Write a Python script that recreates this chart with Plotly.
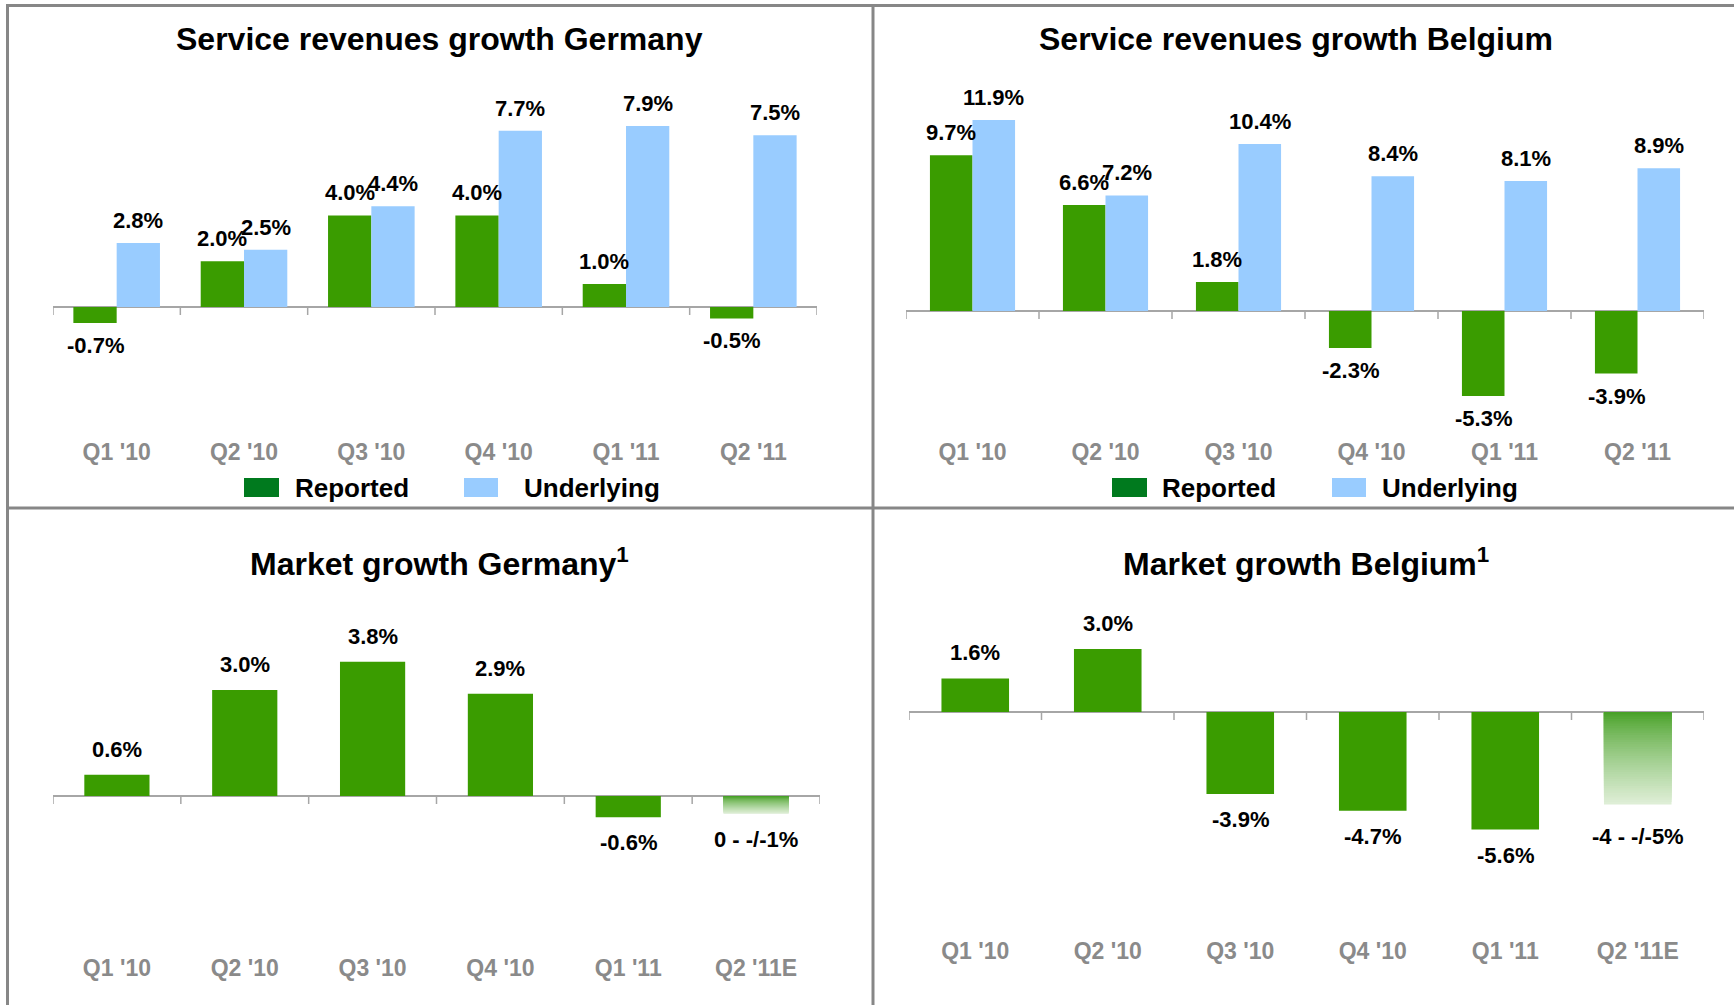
import plotly.graph_objects as go

W, H = 1734, 1005

quarters = ["Q1 '10", "Q2 '10", "Q3 '10", "Q4 '10", "Q1 '11", "Q2 '11"]
quarters_est = ["Q1 '10", "Q2 '10", "Q3 '10", "Q4 '10", "Q1 '11", "Q2 '11E"]

de_reported = [-0.7, 2.0, 4.0, 4.0, 1.0, -0.5]
de_underlying = [2.8, 2.5, 4.4, 7.7, 7.9, 7.5]
be_reported = [9.7, 6.6, 1.8, -2.3, -5.3, -3.9]
be_underlying = [11.9, 7.2, 10.4, 8.4, 8.1, 8.9]

de_market = [0.6, 3.0, 3.8, 2.9, -0.6]
be_market = [1.6, 3.0, -3.9, -4.7, -5.6]
# Q2 '11 is an estimated range -> faded bar drawn at the middle of the range
de_market_est = -0.5
be_market_est = -4.4
de_market_est_label = "0 - -/-1%"
be_market_est_label = "-4 - -/-5%"

GREEN = "#3A9C00"
GREEN_LEGEND = "#007A1E"
BLUE = "#99CCFF"
AXIS_GRAY = "#A6A6A6"
BORDER_GRAY = "#878787"
TICK_GRAY = "#8A8A8A"
FONT = "Liberation Sans, Arial, sans-serif"

# panel geometry in pixels: x0, x1, zero line, px per %, top, bottom
panels = {
    1: dict(x0=53, x1=817, zero=307, ppu=22.9, top=70, bottom=436, gap=8),
    2: dict(x0=906, x1=1704, zero=311, ppu=16.05, top=70, bottom=436, gap=8),
    3: dict(x0=53, x1=820, zero=796, ppu=35.3, top=600, bottom=952, gap=11),
    4: dict(x0=909, x1=1704, zero=712, ppu=21.0, top=600, bottom=935, gap=11),
}

fig = go.Figure()
annotations = []
shapes = []


def ax_ids(k):
    s = "" if k == 1 else str(k)
    return "x" + s, "y" + s, "xaxis" + s, "yaxis" + s


def fmt(v):
    return "{:.1f}%".format(v)


def add_label(k, xpos, v, text, extra=0):
    xa, ya, _, _ = ax_ids(k)
    g = panels[k]["gap"] + extra
    annotations.append(dict(
        x=xpos, y=v, xref=xa, yref=ya, text=text, showarrow=False,
        yanchor="bottom" if v >= 0 else "top", yshift=g if v >= 0 else -g,
        font=dict(family=FONT, size=22, color="black", weight="bold")))


def grouped(k, cats, reported, underlying, w):
    xa, ya, _, _ = ax_ids(k)
    fig.add_trace(go.Bar(x=cats, y=reported, width=w, offset=-w, marker_color=GREEN,
                         marker_line_width=0, xaxis=xa, yaxis=ya, showlegend=False,
                         hoverinfo="skip"))
    fig.add_trace(go.Bar(x=cats, y=underlying, width=w, offset=0, marker_color=BLUE,
                         marker_line_width=0, xaxis=xa, yaxis=ya, showlegend=False,
                         hoverinfo="skip"))
    for i, (r, u) in enumerate(zip(reported, underlying)):
        add_label(k, i - w / 2, r, fmt(r))
        add_label(k, i + w / 2, u, fmt(u))


def faded_color(t):
    c0 = (62, 156, 28)
    c1 = (222, 238, 214)
    t = min(1.0, t ** 0.75)
    return "rgb({},{},{})".format(*[int(round(a + (b - a) * t)) for a, b in zip(c0, c1)])


def market(k, cats, values, est_value, est_label, w, est_gap):
    xa, ya, _, _ = ax_ids(k)
    fig.add_trace(go.Bar(x=cats[:len(values)], y=values, width=w, marker_color=GREEN,
                         marker_line_width=0, xaxis=xa, yaxis=ya, showlegend=False,
                         hoverinfo="skip"))
    for i, v in enumerate(values):
        add_label(k, i, v, fmt(v))
    # gradient bar: overlapping bars, longest (palest) first
    n = 40
    steps = list(range(n, 0, -1))
    fig.add_trace(go.Bar(x=[cats[-1]] * n, y=[est_value * s / n for s in steps], width=w,
                         marker_color=[faded_color(s / n) for s in steps],
                         marker_line_width=0, xaxis=xa, yaxis=ya, showlegend=False,
                         hoverinfo="skip"))
    add_label(k, len(cats) - 1, est_value, est_label, extra=est_gap)


grouped(1, quarters, de_reported, de_underlying, 0.34)
grouped(2, quarters, be_reported, be_underlying, 0.32)
market(3, quarters_est, de_market, de_market_est, de_market_est_label, 0.51, 0)
market(4, quarters_est, be_market, be_market_est, be_market_est_label, 0.51, 7)

layout_axes = {}
for k, p in panels.items():
    xa, ya, xkey, ykey = ax_ids(k)
    lo = -(p["bottom"] - p["zero"]) / p["ppu"]
    hi = (p["zero"] - p["top"]) / p["ppu"]
    cats = quarters if k <= 2 else quarters_est
    layout_axes[xkey] = dict(
        domain=[p["x0"] / W, p["x1"] / W], anchor=ya, type="category",
        categoryorder="array", categoryarray=cats, range=[-0.5, len(cats) - 0.5],
        showline=False, showgrid=False, zeroline=False, ticks="",
        tickfont=dict(family=FONT, size=23, color=TICK_GRAY, weight="bold"))
    layout_axes[ykey] = dict(
        domain=[1 - p["bottom"] / H, 1 - p["top"] / H], anchor=xa, range=[lo, hi],
        showticklabels=False, showgrid=False, showline=False, ticks="",
        zeroline=True, zerolinecolor=AXIS_GRAY, zerolinewidth=2)
    # small tick marks hanging under the zero line at category boundaries
    for b in range(len(cats) + 1):
        shapes.append(dict(type="line", xref=xa, yref=ya, x0=b - 0.5, x1=b - 0.5,
                           ysizemode="pixel", yanchor=0, y0=0, y1=-8,
                           line=dict(color=AXIS_GRAY, width=1.5), layer="below"))

# titles
titles = [
    ("Service revenues growth Germany", 439, 39),
    ("Service revenues growth Belgium", 1296, 39),
    ("Market growth Germany<sup>1</sup>", 439, 562),
    ("Market growth Belgium<sup>1</sup>", 1306, 562),
]
for text, cx, cy in titles:
    annotations.append(dict(x=cx / W, y=1 - cy / H, xref="paper", yref="paper", text=text,
                            showarrow=False, xanchor="center", yanchor="middle",
                            font=dict(family=FONT, size=32, color="black", weight="bold")))

# legends under the top two charts
legend_items = [
    (244, 279, 293, "Reported", GREEN_LEGEND),
    (464, 498, 522, "Underlying", BLUE),
    (1112, 1147, 1160, "Reported", GREEN_LEGEND),
    (1332, 1366, 1380, "Underlying", BLUE),
]
for sx0, sx1, tx, text, col in legend_items:
    shapes.append(dict(type="rect", xref="paper", yref="paper", x0=sx0 / W, x1=sx1 / W,
                       y0=1 - 497 / H, y1=1 - 478 / H, fillcolor=col, line=dict(width=0)))
    annotations.append(dict(x=tx / W, y=1 - 488 / H, xref="paper", yref="paper", text=text,
                            showarrow=False, xanchor="left", yanchor="middle",
                            font=dict(family=FONT, size=26, color="black", weight="bold")))

# panel frame
frame = [
    (7, 5.5, W, 5.5),
    (7.5, 4, 7.5, H),
    (873, 4, 873, H),
    (7, 508, W, 508),
]
for fx0, fy0, fx1, fy1 in frame:
    shapes.append(dict(type="line", xref="paper", yref="paper", x0=fx0 / W, x1=fx1 / W,
                       y0=1 - fy0 / H, y1=1 - fy1 / H,
                       line=dict(color=BORDER_GRAY, width=3)))

fig.update_layout(
    width=W, height=H, margin=dict(l=0, r=0, t=0, b=0),
    barmode="overlay", plot_bgcolor="white", paper_bgcolor="white",
    showlegend=False, annotations=annotations, shapes=shapes,
    font=dict(family=FONT), **layout_axes)

# page has a default body margin; drop it so the figure sits at the window corner
fig.write_html("out.html", config={"displayModeBar": False},
               post_script="document.body.style.margin='0';")
